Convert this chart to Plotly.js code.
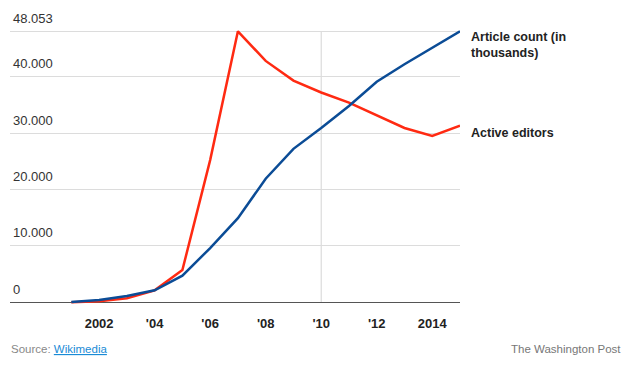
<!DOCTYPE html>
<html>
<head>
<meta charset="utf-8">
<script src="https://cdn.plot.ly/plotly-3.0.1.min.js"></script>
<style>
html,body{margin:0;padding:0;background:#fff;}
#chart{width:640px;height:369px;}
</style>
</head>
<body>
<div id="chart"></div>
<script>
const years = [2001,2002,2003,2004,2005,2006,2007,2008,2009,2010,2011,2012,2013,2014,2015];
const articleCount = [20,400,1100,2100,4700,9600,14900,21900,27200,30900,34800,39100,42200,45100,48053];
const activeEditors = [0,150,700,2100,5700,25200,48053,42800,39300,37200,35400,33200,30900,29500,31300];
const seriesNames = ["Article count (in<br>thousands)", "Active editors"];
const yTickVals = [0,10000,20000,30000,40000,48053];
const yTickText = ["0","10.000","20.000","30.000","40.000","48.053"];
const xTickVals = [2002,2004,2006,2008,2010,2012,2014];
const xTickText = ["2002","'04","'06","'08","'10","'12","2014"];
const sourceText = 'Source: <span style="color:#1a8bd6"><u>Wikimedia</u></span>';
const creditText = "The Washington Post";

const font = "'Liberation Sans', Arial, Helvetica, sans-serif";
const blue = "#0b4c96";
const red = "#ff2a12";

const traces = [
  {x: years, y: activeEditors, type: "scatter", mode: "lines", line: {color: red, width: 2.5}, hoverinfo: "skip"},
  {x: years, y: articleCount, type: "scatter", mode: "lines", line: {color: blue, width: 2.5}, hoverinfo: "skip"}
];

const W = 640, H = 369;
const margin = {l: 10, r: 180, t: 10, b: 64};

const layout = {
  width: W, height: H,
  margin: margin,
  paper_bgcolor: "#fff", plot_bgcolor: "#fff",
  showlegend: false,
  font: {family: font, color: "#333"},
  xaxis: {
    range: [1998.79, 2015],
    tickvals: xTickVals, ticktext: xTickText,
    tickfont: {family: font, size: 13, color: "#222", weight: "bold"},
    ticklabelstandoff: 9,
    showgrid: false, zeroline: false, showline: false, ticks: "",
    fixedrange: true
  },
  yaxis: {
    range: [-500, 51830],
    tickvals: yTickVals, ticktext: yTickText,
    ticklabelposition: "inside top",
    ticklabelshift: -4,
    tickfont: {family: font, size: 13, color: "#333"},
    showgrid: true, gridcolor: "#dcdcdc", gridwidth: 1,
    zeroline: true, zerolinecolor: "#555", zerolinewidth: 1,
    showline: false, ticks: "",
    fixedrange: true
  },
  shapes: [
    {type: "line", xref: "x", yref: "y", x0: 2010, x1: 2010, y0: 0, y1: 48053,
     line: {color: "#d4d4d4", width: 1}, layer: "below"}
  ],
  annotations: [
    {x: years[years.length-1], y: articleCount[articleCount.length-1], xref: "x", yref: "y",
     text: "<b>" + seriesNames[0] + "</b>", showarrow: false, xanchor: "left", yanchor: "top",
     xshift: 9, yshift: 3, align: "left", font: {family: font, size: 12.5, color: "#222"}},
    {x: years[years.length-1], y: activeEditors[activeEditors.length-1], xref: "x", yref: "y",
     text: "<b>" + seriesNames[1] + "</b>", showarrow: false, xanchor: "left", yanchor: "middle",
     xshift: 9, yshift: -7, align: "left", font: {family: font, size: 12.5, color: "#222"}}
  ]
};

function paperX(px){ return (px - margin.l) / (W - margin.l - margin.r); }
function paperY(py){ return (H - margin.b - py) / (H - margin.t - margin.b); }
layout.annotations.push({x: paperX(9), y: paperY(349), xref: "paper", yref: "paper", text: sourceText,
  showarrow: false, xanchor: "left", yanchor: "middle", font: {family: font, size: 11.5, color: "#888"}});
layout.annotations.push({x: paperX(623), y: paperY(349), xref: "paper", yref: "paper", text: creditText,
  showarrow: false, xanchor: "right", yanchor: "middle", font: {family: font, size: 11.5, color: "#777"}});

Plotly.newPlot("chart", traces, layout, {displayModeBar: false, staticPlot: true});
</script>
</body>
</html>
